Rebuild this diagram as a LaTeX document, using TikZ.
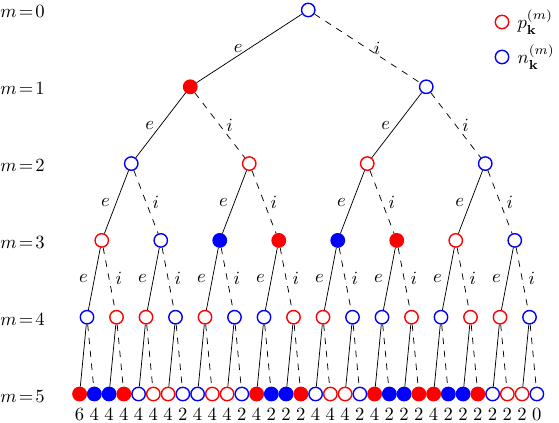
\documentclass[tikz,border=0pt]{standalone}
\usepackage{amsmath}
\begin{document}
\begin{tikzpicture}[x=0.5367pt,y=-0.5367pt]
\tikzset{
  st/.style={circle, minimum size=7.2pt, inner sep=0pt, line width=0.75pt},
  rO/.style={st, draw=red},
  rF/.style={st, draw=red, fill=red},
  bO/.style={st, draw=blue},
  bF/.style={st, draw=blue, fill=blue},
  soledge/.style={line width=0.4pt},
  dshedge/.style={line width=0.4pt, dash pattern=on 3.5pt off 3.5pt},
  lv/.style={anchor=west, inner sep=0pt},
  num/.style={inner sep=0pt}
}
\useasboundingbox (0,0) rectangle (559,423);
% level labels
\foreach \m in {0,...,5}
  \node[lv] (m\m) at (0,{12+76.8*\m}) {\thickmuskip=2mu $m=\m$};
% nodes
\node[bO] (n0-0) at (308.25,10) {};
\foreach \s [count=\k from 0] in {rF,bO}
  \node[\s] (n1-\k) at ({190.25+236*\k},86.8) {};
\foreach \s [count=\k from 0] in {bO,rO,rO,bO}
  \node[\s] (n2-\k) at ({131.25+118*\k},163.6) {};
\foreach \s [count=\k from 0] in {rO,bO,bF,rF,bF,rF,rO,bO}
  \node[\s] (n3-\k) at ({101.75+59*\k},240.4) {};
\foreach \s [count=\k from 0] in {bO,rO,rO,bO,rO,bO,bO,rO,rO,bO,bO,rO,bO,rO,rO,bO}
  \node[\s] (n4-\k) at ({87+29.5*\k},317.2) {};
\foreach \s [count=\k from 0] in {rF,bF,bF,rF,bO,rO,rO,bO,bO,rO,rO,bO,rF,bF,bF,rF,bO,rO,rO,bO,rF,bF,bF,rF,rF,bF,bF,rF,bO,rO,rO,bO}
  \node[\s] (n5-\k) at ({79.6+14.75*\k},394) {};
% numbers
\foreach \v [count=\k from 0] in {6,4,4,4,4,4,4,2,4,4,4,2,4,2,2,2,4,4,4,2,4,2,2,2,4,2,2,2,2,2,2,0}
  \node[num] (v\k) at ({79.6+14.75*\k},414.5) {$\v$};
% edges with labels
\foreach \l/\n in {0/1,1/2,2/3,3/4}{
  \pgfmathtruncatemacro\tp{2^\l-1}
  \foreach \k in {0,...,\tp}{
    \pgfmathtruncatemacro\a{2*\k}
    \pgfmathtruncatemacro\b{2*\k+1}
    \draw[soledge] (n\l-\k) -- node[midway,left] {$e$} (n\n-\a);
    \draw[dshedge] (n\l-\k) -- node[midway,right] {$i$} (n\n-\b);
  }
}
\foreach \k in {0,...,15}{
  \pgfmathtruncatemacro\a{2*\k}
  \pgfmathtruncatemacro\b{2*\k+1}
  \draw[soledge] (n4-\k) -- (n5-\a);
  \draw[dshedge] (n4-\k) -- (n5-\b);
}
% legend
\node[rO] (lp) at (502,22) {};
\node[anchor=west] (tp) at (511,22) {$p_{\mathbf{k}}^{(m)}$};
\node[bO] (ln) at (502,57) {};
\node[anchor=west] (tn) at (511,57) {$n_{\mathbf{k}}^{(m)}$};
\end{tikzpicture}
\end{document}
